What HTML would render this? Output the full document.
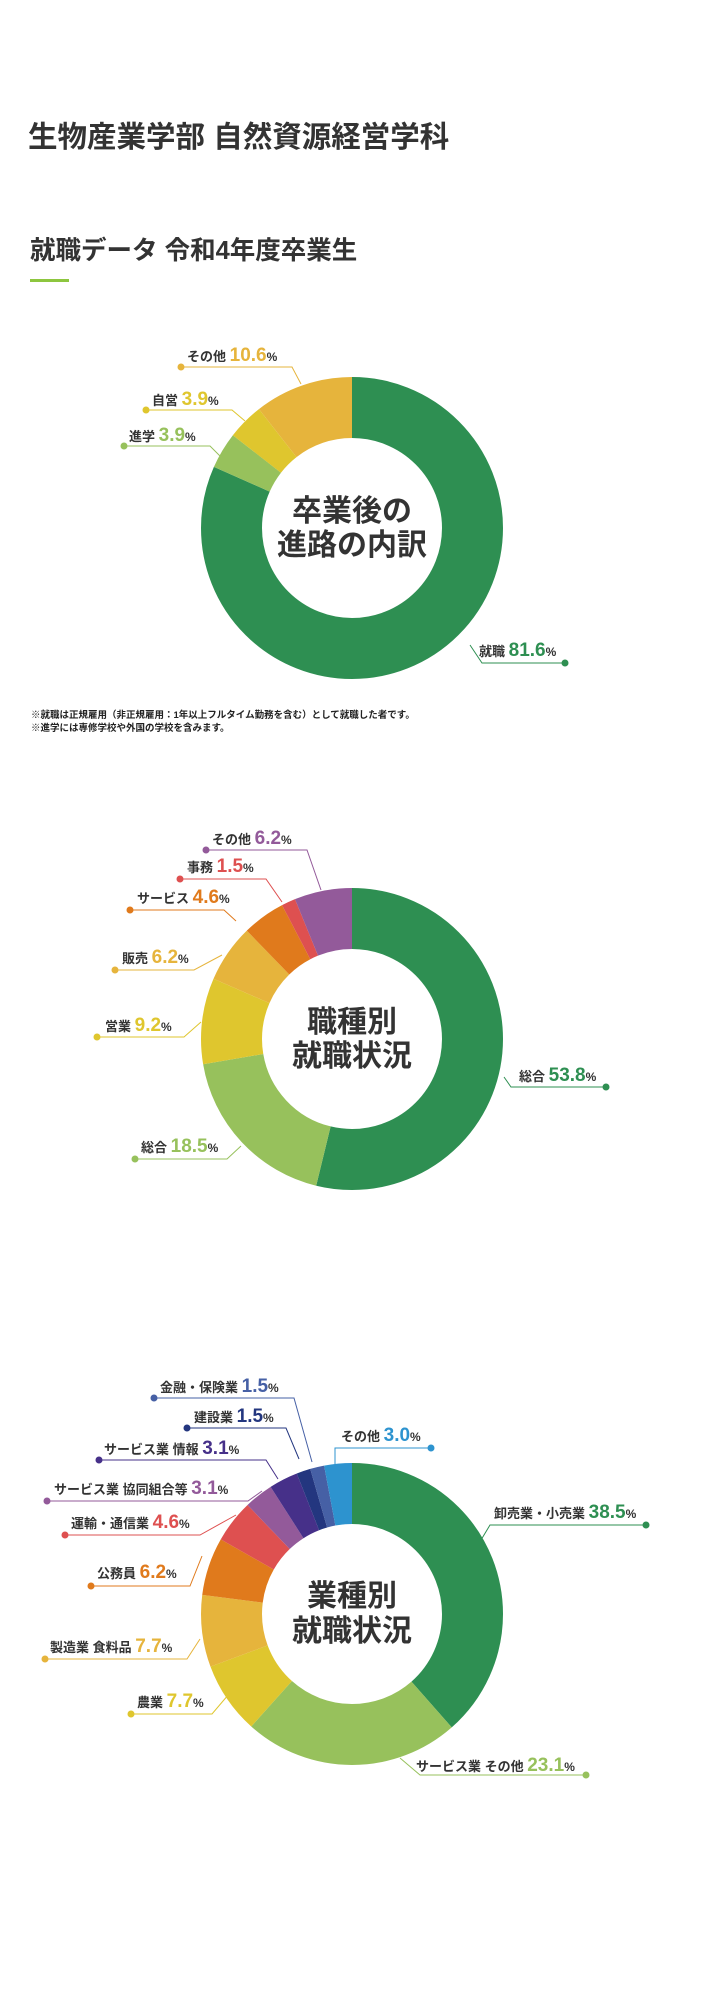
<!DOCTYPE html>
<html><head><meta charset="utf-8"><style>
html,body{margin:0;padding:0;background:#fff;}
svg{display:block;}
text{font-family:"Liberation Sans","Noto Sans CJK JP",sans-serif;}
.l{font-size:13px;font-weight:bold;fill:#333;}
.n{font-size:19px;font-weight:bold;}
.p{font-size:12px;fill:#333;}
.c{font-size:30px;font-weight:bold;fill:#333;}
</style></head><body>
<svg width="720" height="1999" viewBox="0 0 720 1999" xmlns="http://www.w3.org/2000/svg">
<text x="28" y="147" font-size="29.5" font-weight="bold" fill="#333">生物産業学部 自然資源経営学科</text>
<text x="30" y="259" font-size="25.5" font-weight="bold" fill="#333">就職データ 令和4年度卒業生</text>
<rect x="30" y="279" width="39" height="3" fill="#8dc63f"/>

<!-- Chart 1 -->
<g transform="rotate(-90 352 528)" fill="none" stroke-width="61">
<circle cx="352" cy="528" r="120.5" stroke="#2e8f52" stroke-dasharray="617.8 757.12" stroke-dashoffset="0"/>
<circle cx="352" cy="528" r="120.5" stroke="#97c15c" stroke-dasharray="29.53 757.12" stroke-dashoffset="-617.8"/>
<circle cx="352" cy="528" r="120.5" stroke="#dfc62e" stroke-dasharray="29.53 757.12" stroke-dashoffset="-647.3"/>
<circle cx="352" cy="528" r="120.5" stroke="#e6b43c" stroke-dasharray="80.3 757.12" stroke-dashoffset="-676.85"/>
</g>
<text x="352" y="521" text-anchor="middle" class="c">卒業後の</text>
<text x="352" y="555" text-anchor="middle" class="c">進路の内訳</text>
<g fill="none" stroke-width="1">
<polyline points="181,367 292,367 301,384" stroke="#e6b43c"/>
<polyline points="146,410 232,410 245,421" stroke="#dfc62e"/>
<polyline points="124,446 210,446 221,457" stroke="#97c15c"/>
<polyline points="470,645 482,663 565,663" stroke="#2e8f52"/>
</g>
<circle cx="181" cy="367" r="3.5" fill="#e6b43c"/>
<circle cx="146" cy="410" r="3.5" fill="#dfc62e"/>
<circle cx="124" cy="446" r="3.5" fill="#97c15c"/>
<circle cx="565" cy="663" r="3.5" fill="#2e8f52"/>
<text x="187" y="361" class="l">その他 <tspan class="n" fill="#e6b43c">10.6</tspan><tspan class="p">%</tspan></text>
<text x="152" y="405" class="l">自営 <tspan class="n" fill="#dfc62e">3.9</tspan><tspan class="p">%</tspan></text>
<text x="129" y="441" class="l">進学 <tspan class="n" fill="#97c15c">3.9</tspan><tspan class="p">%</tspan></text>
<text x="479" y="656" class="l">就職 <tspan class="n" fill="#2e8f52">81.6</tspan><tspan class="p">%</tspan></text>
<text x="31" y="718" font-size="9.5" font-weight="bold" fill="#222">※就職は正規雇用（非正規雇用：1年以上フルタイム勤務を含む）として就職した者です。</text>
<text x="31" y="731" font-size="9.5" font-weight="bold" fill="#222">※進学には専修学校や外国の学校を含みます。</text>

<!-- Chart 2 -->
<g transform="rotate(-90 352 1039)" fill="none" stroke-width="61">
<circle cx="352" cy="1039" r="120.5" stroke="#2e8f52" stroke-dasharray="407.3 757.12" stroke-dashoffset="0"/>
<circle cx="352" cy="1039" r="120.5" stroke="#97c15c" stroke-dasharray="140.07 757.12" stroke-dashoffset="-407.3"/>
<circle cx="352" cy="1039" r="120.5" stroke="#dfc62e" stroke-dasharray="69.66 757.12" stroke-dashoffset="-547.37"/>
<circle cx="352" cy="1039" r="120.5" stroke="#e6b43c" stroke-dasharray="46.94 757.12" stroke-dashoffset="-617.03"/>
<circle cx="352" cy="1039" r="120.5" stroke="#e07a1c" stroke-dasharray="34.83 757.12" stroke-dashoffset="-663.97"/>
<circle cx="352" cy="1039" r="120.5" stroke="#de5050" stroke-dasharray="11.36 757.12" stroke-dashoffset="-698.8"/>
<circle cx="352" cy="1039" r="120.5" stroke="#935a9a" stroke-dasharray="46.96 757.12" stroke-dashoffset="-710.16"/>
</g>
<text x="352" y="1032" text-anchor="middle" class="c">職種別</text>
<text x="352" y="1066" text-anchor="middle" class="c">就職状況</text>
<g fill="none" stroke-width="1">
<polyline points="206,850 307,850 321,890" stroke="#935a9a"/>
<polyline points="180,879 266,879 282,902" stroke="#de5050"/>
<polyline points="130,910 224,910 236,921" stroke="#e07a1c"/>
<polyline points="115,970 194,970 222,955" stroke="#e6b43c"/>
<polyline points="97,1037 184,1037 201,1022" stroke="#dfc62e"/>
<polyline points="135,1159 227,1159 241,1146" stroke="#97c15c"/>
<polyline points="504,1077 511,1087 606,1087" stroke="#2e8f52"/>
</g>
<circle cx="206" cy="850" r="3.5" fill="#935a9a"/>
<circle cx="180" cy="879" r="3.5" fill="#de5050"/>
<circle cx="130" cy="910" r="3.5" fill="#e07a1c"/>
<circle cx="115" cy="970" r="3.5" fill="#e6b43c"/>
<circle cx="97" cy="1037" r="3.5" fill="#dfc62e"/>
<circle cx="135" cy="1159" r="3.5" fill="#97c15c"/>
<circle cx="606" cy="1087" r="3.5" fill="#2e8f52"/>
<text x="212" y="844" class="l">その他 <tspan class="n" fill="#935a9a">6.2</tspan><tspan class="p">%</tspan></text>
<text x="187" y="872" class="l">事務 <tspan class="n" fill="#de5050">1.5</tspan><tspan class="p">%</tspan></text>
<text x="137" y="903" class="l">サービス <tspan class="n" fill="#e07a1c">4.6</tspan><tspan class="p">%</tspan></text>
<text x="122" y="963" class="l">販売 <tspan class="n" fill="#e6b43c">6.2</tspan><tspan class="p">%</tspan></text>
<text x="105" y="1031" class="l">営業 <tspan class="n" fill="#dfc62e">9.2</tspan><tspan class="p">%</tspan></text>
<text x="141" y="1152" class="l">総合 <tspan class="n" fill="#97c15c">18.5</tspan><tspan class="p">%</tspan></text>
<text x="519" y="1081" class="l">総合 <tspan class="n" fill="#2e8f52">53.8</tspan><tspan class="p">%</tspan></text>

<!-- Chart 3 -->
<g transform="rotate(-90 352 1614)" fill="none" stroke-width="61">
<circle cx="352" cy="1614" r="120.5" stroke="#2e8f52" stroke-dasharray="291.5 757.12" stroke-dashoffset="0"/>
<circle cx="352" cy="1614" r="120.5" stroke="#97c15c" stroke-dasharray="174.9 757.12" stroke-dashoffset="-291.5"/>
<circle cx="352" cy="1614" r="120.5" stroke="#dfc62e" stroke-dasharray="58.3 757.12" stroke-dashoffset="-466.4"/>
<circle cx="352" cy="1614" r="120.5" stroke="#e6b43c" stroke-dasharray="58.3 757.12" stroke-dashoffset="-524.7"/>
<circle cx="352" cy="1614" r="120.5" stroke="#e07a1c" stroke-dasharray="46.94 757.12" stroke-dashoffset="-583.0"/>
<circle cx="352" cy="1614" r="120.5" stroke="#de5050" stroke-dasharray="34.83 757.12" stroke-dashoffset="-629.94"/>
<circle cx="352" cy="1614" r="120.5" stroke="#935a9a" stroke-dasharray="23.47 757.12" stroke-dashoffset="-664.77"/>
<circle cx="352" cy="1614" r="120.5" stroke="#463089" stroke-dasharray="23.47 757.12" stroke-dashoffset="-688.24"/>
<circle cx="352" cy="1614" r="120.5" stroke="#23367f" stroke-dasharray="11.36 757.12" stroke-dashoffset="-711.71"/>
<circle cx="352" cy="1614" r="120.5" stroke="#4660a5" stroke-dasharray="11.36 757.12" stroke-dashoffset="-723.07"/>
<circle cx="352" cy="1614" r="120.5" stroke="#2d93cf" stroke-dasharray="22.7 757.12" stroke-dashoffset="-734.43"/>
</g>
<text x="352" y="1606" text-anchor="middle" class="c">業種別</text>
<text x="352" y="1641" text-anchor="middle" class="c">就職状況</text>
<g fill="none" stroke-width="1">
<polyline points="154,1398 294,1398 312,1462" stroke="#4660a5"/>
<polyline points="187,1428 286,1428 299,1459" stroke="#23367f"/>
<polyline points="99,1460 266,1460 278,1479" stroke="#463089"/>
<polyline points="47,1501 248,1501 262,1491" stroke="#935a9a"/>
<polyline points="65,1535 200,1535 236,1515" stroke="#de5050"/>
<polyline points="91,1586 190,1586 202,1556" stroke="#e07a1c"/>
<polyline points="45,1659 187,1659 200,1639" stroke="#e6b43c"/>
<polyline points="131,1714 212,1714 229,1694" stroke="#dfc62e"/>
<polyline points="335,1465 335,1448 431,1448" stroke="#2d93cf"/>
<polyline points="481,1540 490,1525 646,1525" stroke="#2e8f52"/>
<polyline points="400,1758 420,1775 586,1775" stroke="#97c15c"/>
</g>
<circle cx="154" cy="1398" r="3.5" fill="#4660a5"/>
<circle cx="187" cy="1428" r="3.5" fill="#23367f"/>
<circle cx="99" cy="1460" r="3.5" fill="#463089"/>
<circle cx="47" cy="1501" r="3.5" fill="#935a9a"/>
<circle cx="65" cy="1535" r="3.5" fill="#de5050"/>
<circle cx="91" cy="1586" r="3.5" fill="#e07a1c"/>
<circle cx="45" cy="1659" r="3.5" fill="#e6b43c"/>
<circle cx="131" cy="1714" r="3.5" fill="#dfc62e"/>
<circle cx="431" cy="1448" r="3.5" fill="#2d93cf"/>
<circle cx="646" cy="1525" r="3.5" fill="#2e8f52"/>
<circle cx="586" cy="1775" r="3.5" fill="#97c15c"/>
<text x="160" y="1392" class="l">金融・保険業 <tspan class="n" fill="#4660a5">1.5</tspan><tspan class="p">%</tspan></text>
<text x="194" y="1422" class="l">建設業 <tspan class="n" fill="#23367f">1.5</tspan><tspan class="p">%</tspan></text>
<text x="104" y="1454" class="l">サービス業 情報 <tspan class="n" fill="#463089">3.1</tspan><tspan class="p">%</tspan></text>
<text x="54" y="1494" class="l">サービス業 協同組合等 <tspan class="n" fill="#935a9a">3.1</tspan><tspan class="p">%</tspan></text>
<text x="71" y="1528" class="l">運輸・通信業 <tspan class="n" fill="#de5050">4.6</tspan><tspan class="p">%</tspan></text>
<text x="97" y="1578" class="l">公務員 <tspan class="n" fill="#e07a1c">6.2</tspan><tspan class="p">%</tspan></text>
<text x="50" y="1652" class="l">製造業 食料品 <tspan class="n" fill="#e6b43c">7.7</tspan><tspan class="p">%</tspan></text>
<text x="137" y="1707" class="l">農業 <tspan class="n" fill="#dfc62e">7.7</tspan><tspan class="p">%</tspan></text>
<text x="341" y="1441" class="l">その他 <tspan class="n" fill="#2d93cf">3.0</tspan><tspan class="p">%</tspan></text>
<text x="494" y="1518" class="l">卸売業・小売業 <tspan class="n" fill="#2e8f52">38.5</tspan><tspan class="p">%</tspan></text>
<text x="416" y="1771" class="l">サービス業 その他 <tspan class="n" fill="#97c15c">23.1</tspan><tspan class="p">%</tspan></text>
</svg>
</body></html>
